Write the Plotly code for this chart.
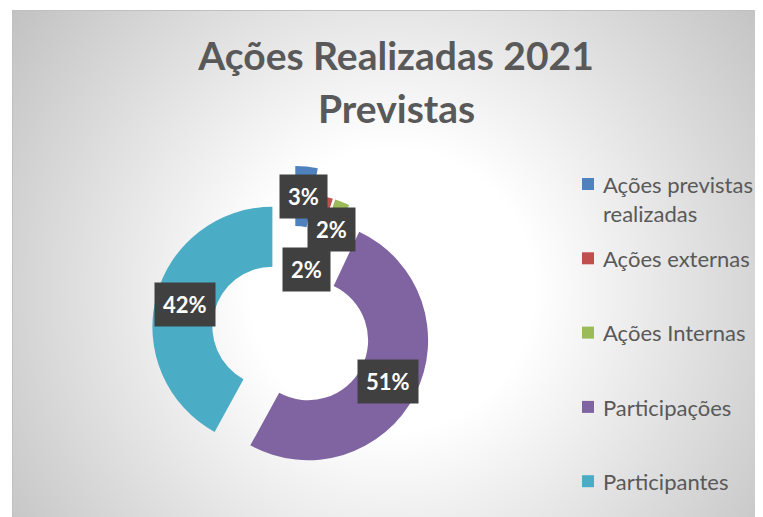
import math
import base64
import plotly.graph_objects as go

# ---- data ----
categories = ["Ações previstas realizadas", "Ações externas", "Ações Internas",
              "Participações", "Participantes"]
legend_lines = [["Ações previstas", "realizadas"], ["Ações externas"], ["Ações Internas"],
                ["Participações"], ["Participantes"]]
values = [3, 2, 2, 51, 42]
label_texts = ["3%", "2%", "2%", "51%", "42%"]
title_lines = ["Ações Realizadas 2021", "Previstas"]

# ---- style ----
colors = ["#4F81BD", "#C0504D", "#9BBB59", "#8064A2", "#4BACC6"]
pulls = [0.38, 0.16, 0.16, 0.16, 0.16]
label_r = [0.75, 0.375, 0.75, 0.75, 0.75]
PAGE_OFF = 8                     # default body margin of the html page
W, H = 763 - PAGE_OFF, 517 - PAGE_OFF
cx_px, cy_px, R_px = 291, 331.5, 120   # page pixel coordinates
hole = 0.5
FONT = "Lato"
TXT = "#595959"


def px2paper(px, py):
    return (px - PAGE_OFF) / W, 1 - (py - PAGE_OFF) / H


half = R_px * (1 + max(pulls))
dx0, dy1 = px2paper(cx_px - half, cy_px - half)
dx1, dy0 = px2paper(cx_px + half, cy_px + half)

fig = go.Figure(go.Pie(
    labels=categories,
    values=values,
    hovertemplate="%{label}: %{percent}<extra></extra>",
    sort=False,
    direction="clockwise",
    rotation=0,
    hole=hole,
    pull=pulls,
    textinfo="none",
    showlegend=False,
    marker=dict(colors=colors, line=dict(width=0)),
    domain=dict(x=[dx0, dx1], y=[dy0, dy1]),
))

# data labels (dark boxes)
total = sum(values)
cum = 0
annotations = []
for i, v in enumerate(values):
    th = 2 * math.pi * (cum + v / 2) / total
    cum += v
    d = (pulls[i] + label_r[i]) * R_px
    ax, ay = px2paper(cx_px + d * math.sin(th), cy_px - d * math.cos(th))
    annotations.append(dict(
        x=ax, y=ay, xref="paper", yref="paper", xanchor="center", yanchor="middle",
        text="<b>%s</b>" % label_texts[i], showarrow=False,
        font=dict(family=FONT, size=22, color="white"),
        bgcolor="#404040", borderpad=8,
    ))

# legend (drawn: Excel-like spacing)
LEG_FS = 22
leg_x_sym, leg_x_txt, leg_y0, leg_dy, sym = 582, 601, 184, 74.3, 12
shapes = []
for i, lines in enumerate(legend_lines):
    cy = leg_y0 + i * leg_dy
    x0, y1 = px2paper(leg_x_sym, cy - sym / 2)
    x1, y0 = px2paper(leg_x_sym + sym, cy + sym / 2)
    shapes.append(dict(type="rect", xref="paper", yref="paper", x0=x0, x1=x1, y0=y0, y1=y1,
                       fillcolor=colors[i], line=dict(width=0)))
    lh = LEG_FS * 1.3
    tx, ty = px2paper(leg_x_txt, cy - lh / 2 - 1)
    annotations.append(dict(
        x=tx, y=ty, xref="paper", yref="paper", xanchor="left", yanchor="top",
        align="left", text="<br>".join(lines), showarrow=False,
        font=dict(family=FONT, size=LEG_FS, color=TXT),
    ))

# second title line
tx2, ty2 = px2paper(396, 108)
annotations.append(dict(x=tx2, y=ty2, xref="paper", yref="paper", xanchor="center",
                        yanchor="middle", text="<b>%s</b>" % title_lines[1], showarrow=False,
                        font=dict(family=FONT, size=39, color=TXT)))

# background radial gradient (chart area starts at page x=12, y=10)
bx0, by0 = px2paper(12, 10)
svg = '''<svg xmlns="http://www.w3.org/2000/svg" width="751" height="507" viewBox="0 0 751 507" preserveAspectRatio="none">
<defs><radialGradient id="g" gradientUnits="userSpaceOnUse" cx="380" cy="280" r="470">
<stop offset="0" stop-color="#ffffff"/><stop offset="0.3" stop-color="#ffffff"/>
<stop offset="1" stop-color="#c2c2c2"/></radialGradient></defs>
<rect x="0" y="0" width="751" height="507" fill="url(#g)"/>
<rect x="0.5" y="0.5" width="760" height="520" fill="none" stroke="#c0c0c0" stroke-width="1"/>
</svg>'''
src = "data:image/svg+xml;base64," + base64.b64encode(svg.encode()).decode()

_, title_y = px2paper(0, 56)
title_x, _ = px2paper(396, 0)
fig.update_layout(
    width=W, height=H,
    margin=dict(l=0, r=0, t=0, b=0),
    paper_bgcolor="white",
    images=[dict(source=src, xref="paper", yref="paper", x=bx0, y=by0,
                 sizex=1 - bx0, sizey=by0, sizing="stretch",
                 xanchor="left", yanchor="top", layer="below")],
    title=dict(text="<b>%s</b>" % title_lines[0],
               font=dict(family=FONT, size=39, color=TXT),
               x=title_x, xanchor="center", y=title_y, yanchor="middle"),
    annotations=annotations,
    shapes=shapes,
)

fig.write_html("out.html")
